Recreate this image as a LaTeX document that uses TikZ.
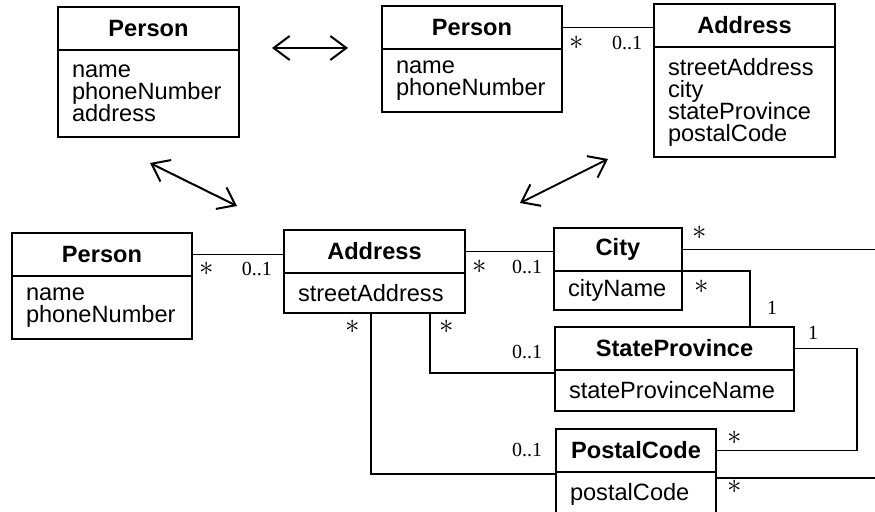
\documentclass[tikz,border=0pt]{standalone}
\usepackage{fontspec}
\setmainfont{Liberation Sans}
\newfontfamily\multfont{Liberation Serif}
\usetikzlibrary{positioning}
\usetikzlibrary{arrows.meta}

\begin{document}
\begin{tikzpicture}[x=0.5pt, y=-0.5pt, line width=0.6pt, node distance=0pt,
		classhead/.style={draw, outer sep=0, inner xsep=7pt, inner ysep=0pt, align=center, text width=#1, minimum height=21.5pt, font=\fontsize{11.8}{11}\selectfont\bfseries},
		classattr/.style={draw, outer sep=0, inner xsep=7pt, inner ysep=4pt, align=left, text width=#1, font=\fontsize{11.8}{11}\selectfont},
		mult/.style={inner sep=0, outer sep=0, font=\multfont\fontsize{10}{10}\selectfont},
		many/.style={inner sep=0, outer sep=0, font=\fontsize{14}{14}\selectfont},
		equiv/.style={<->, line width=1pt, >={Straight Barb[length=8pt,width=12pt]}}]
		
		\useasboundingbox (0,0) rectangle (875,512);
		\clip (0,0) rectangle (875,512);
		
		%Nodes
		\node[classhead=76.5pt, anchor=north west] (personA) at (58,7) {Person};
		\node[classattr=76.5pt, minimum height=43.5pt, below=of personA] (personAattr) {name\\phoneNumber\\address};
		
		\node[classhead=76pt, anchor=north west] (personB) at (382,6) {Person};
		\node[classattr=76pt, minimum height=31.5pt, below=of personB] (personBattr) {name\\phoneNumber};
		\node[classhead=76.5pt, anchor=north west] (addressB) at (654,4) {Address};
		\node[classattr=76.5pt, minimum height=55pt, below=of addressB] (addressBattr) {streetAddress\\city\\stateProvince\\postalCode};
		
		\node[classhead=76pt, anchor=north west] (personC) at (12,233) {Person};
		\node[classattr=76pt, minimum height=31.5pt, below=of personC] (personCattr) {name\\phoneNumber};
		\node[classhead=76.5pt, anchor=north west] (addressC) at (284,230) {Address};
		\node[classattr=76.5pt, minimum height=20pt, below=of addressC] (addressCattr) {streetAddress};
		\node[classhead=50pt, anchor=north west] (city) at (554,228) {City};
		\node[classattr=50pt, minimum height=19.5pt, below=of city] (cityattr) {cityName};
		\node[classhead=105.5pt, anchor=north west] (stateProv) at (555,327) {StateProvince};
		\node[classattr=105.5pt, minimum height=20.5pt, below=of stateProv] (stateProvattr) {stateProvinceName};
		\node[classhead=66pt, anchor=north west] (postal) at (556,429) {PostalCode};
		\node[classattr=66pt, minimum height=22pt, below=of postal] (postalattr) {postalCode};
		
		%Arrow ends
		\coordinate (eqAl) at (272,48);
		\coordinate (eqAr) at (348,48);
		\coordinate (eqBl) at (150,163);
		\coordinate (eqBr) at (237,206);
		\coordinate (eqCl) at (520,203);
		\coordinate (eqCr) at (608,159);
		\coordinate (edgeCity) at (875,250);
		\coordinate (edgePostal) at (875,478);
		
		%Multiplicities
		\node[many] (mPB) at (577,43) {$\ast$};
		\node[mult] (mAB) at (627,43) {0..1};
		\node[many] (mPC) at (207,269) {$\ast$};
		\node[mult] (mAC) at (257,269) {0..1};
		\node[many] (mACity) at (480,267) {$\ast$};
		\node[mult] (mCityA) at (527,267) {0..1};
		\node[many] (mCityE) at (700,233) {$\ast$};
		\node[many] (mCityS) at (702,287) {$\ast$};
		\node[mult] (mSCity) at (772,308) {1};
		\node[mult] (mSPostal) at (813,333) {1};
		\node[many] (mAPostal) at (353,327) {$\ast$};
		\node[many] (mAS) at (447,327) {$\ast$};
		\node[mult] (mSA) at (527,352) {0..1};
		\node[mult] (mPostalA) at (527,450) {0..1};
		\node[many] (mPostalS) at (735,438) {$\ast$};
		\node[many] (mPostalE) at (735,487) {$\ast$};
		
		%Lines
		\draw[equiv] (eqAl) -- (eqAr);
		\draw[equiv] (eqBl) -- (eqBr);
		\draw[equiv] (eqCl) -- (eqCr);
		
		\draw (personB.east) -- (personB.east -| addressB.west);
		\draw (personC.east) -- (personC.east -| addressC.west);
		\draw (addressC.east) -- (addressC.east -| city.west);
		\draw (city.east) -- (city.east -| edgeCity);
		\draw (city.south east) -| ([xshift=-22pt]stateProv.north east);
		\draw ([xshift=-17.5pt]addressCattr.south east) |- ([yshift=-1.5pt]stateProv.south west);
		\draw ([xshift=43.5pt]addressCattr.south west) |- ([yshift=-1pt]postal.south west);
		\draw (stateProv.east) -- ++(31.5pt,0) |- (postal.east);
		\draw (edgePostal -| postal.east) -- (edgePostal);
	\end{tikzpicture}
\end{document}
